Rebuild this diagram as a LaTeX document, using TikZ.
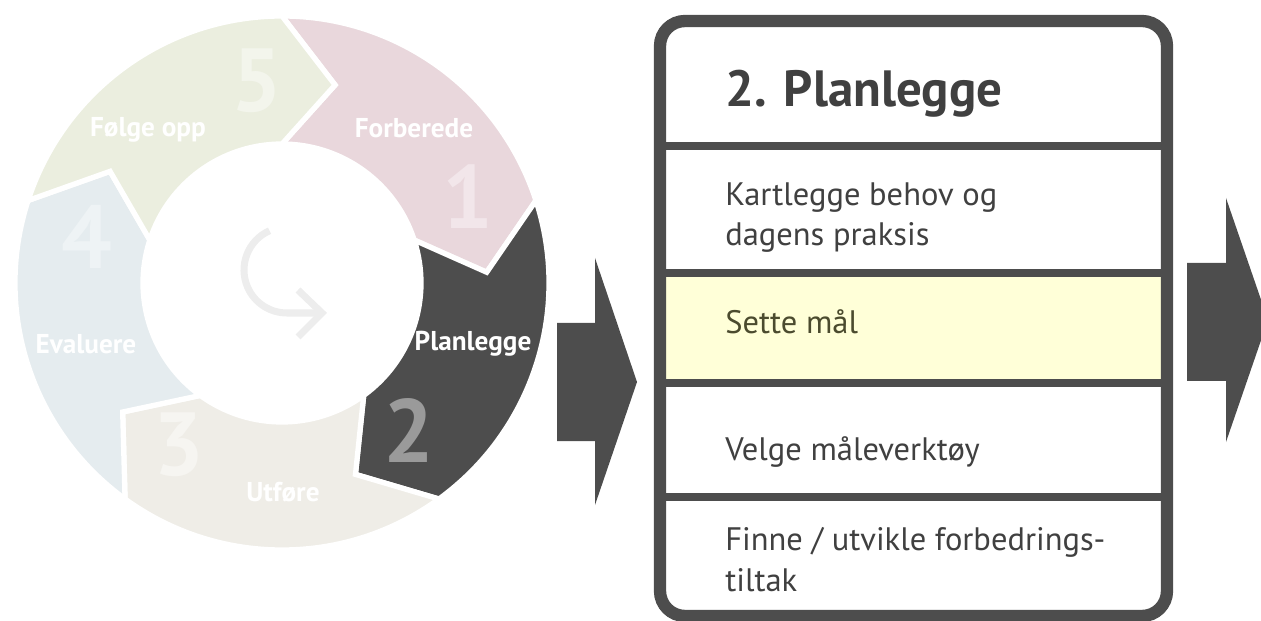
\documentclass[tikz,border=0pt]{standalone}
\usepackage{fontspec}
\setmainfont{PT Sans}
\usetikzlibrary{positioning}
\definecolor{darkgrey}{HTML}{4D4D4D}
\definecolor{textgrey}{HTML}{404040}
\definecolor{pinkseg}{HTML}{E9D7DC}
\definecolor{greenseg}{HTML}{EBEEDF}
\definecolor{blueseg}{HTML}{E5ECEF}
\definecolor{beigeseg}{HTML}{EFEDE7}
\definecolor{pinknum}{HTML}{F2E6EA}
\definecolor{greennum}{HTML}{F3F5EC}
\definecolor{bluenum}{HTML}{EEF3F5}
\definecolor{beigenum}{HTML}{F6F5F1}
\definecolor{darknum}{HTML}{9A9A9A}
\definecolor{iconline}{HTML}{EDEDED}
\definecolor{yellowband}{HTML}{FFFFD8}
\definecolor{olivetext}{HTML}{4B4B2E}

\begin{document}
\begin{tikzpicture}[x=0.02cm,y=-0.02cm,
  segment/.style={draw=white,line width=3pt,line join=miter},
  ringlabel/.style={text=white,font=\bfseries\fontsize{15.5}{17}\selectfont},
  ringnumber/.style={font=\bfseries\fontsize{51}{53}\selectfont},
  boxtext/.style={anchor=base west,inner sep=0pt,text=textgrey,align=left,
    font=\fontsize{18.5}{23}\selectfont},
  divider/.style={draw=darkgrey,line width=4pt},
  bigarrow/.style={fill=darkgrey}]
\useasboundingbox (0,0) rectangle (1261,621);
\clip (0,0) rectangle (1261,621);

% Ring
\begin{scope}[shift={(282,283)}]
\foreach \a/\col in {-90/pinkseg,-18/darkgrey,54/beigeseg,126/blueseg,198/greenseg}
  \filldraw[segment,fill=\col] (\a:267) arc[start angle=\a,end angle=\a+72,radius=267]
    -- (\a+87:205) -- (\a+72:139) arc[start angle=\a+72,end angle=\a,radius=139]
    -- (\a+15:205) -- cycle;
% Icon
\draw[iconline,line width=4pt] (5,-13) ++(-114:43) arc[start angle=-114,end angle=-270,radius=43] -- (38,30);
\draw[iconline,line width=4pt,line join=miter] (16,7) -- (40,30) -- (16,54);
\end{scope}

% Ring numbers
\node[ringnumber,text=pinknum] (n1) at (468,197) {1};
\node[ringnumber,text=darknum] (n2) at (409,431) {2};
\node[ringnumber,text=beigenum] (n3) at (179,445) {3};
\node[ringnumber,text=bluenum] (n4) at (87,237) {4};
\node[ringnumber,text=greennum] (n5) at (257,81) {5};

% Ring labels
\node[ringlabel] (forberede) at (414,128) {Forberede};
\node[ringlabel] (planlegge) at (473,344) {Planlegge};
\node[ringlabel] (utfore) at (283,492) {Utføre};
\node[ringlabel] (evaluere) at (86,344) {Evaluere};
\node[ringlabel] (folge) at (148,130) {Følge opp};

% Arrows
\fill[bigarrow] (557,323) -- (595,323) -- (595,258) -- (637,382) -- (595,505)
  -- (595,441) -- (557,441) -- cycle;
\fill[bigarrow] (1187,263) -- (1226,263) -- (1226,198) -- (1268,320) -- (1226,442)
  -- (1226,381) -- (1187,381) -- cycle;

% Box
\fill[white] (660,21) rectangle (1167,616);
\fill[yellowband] (660,273) rectangle (1167,383);
\foreach \y in {146,273,383,497}
  \draw[divider] (660,\y) -- (1167,\y);
\draw[darkgrey,line width=7pt,rounded corners=0.5cm] (660,21) rectangle (1167,616);

% Box texts (base = last line)
\node[boxtext,font=\bfseries\fontsize{29}{32}\selectfont] (title) at (725,107) {2. Planlegge};
\node[boxtext] (kartlegge) at (725,246) {Kartlegge behov og\\dagens praksis};
\node[boxtext,text=olivetext] (sette) at (725,334) {Sette mål};
\node[boxtext] (velge) at (725,460) {Velge måleverktøy};
\node[boxtext] (finne) at (725,591) {Finne / utvikle forbedrings-\\tiltak};
\end{tikzpicture}
\end{document}
